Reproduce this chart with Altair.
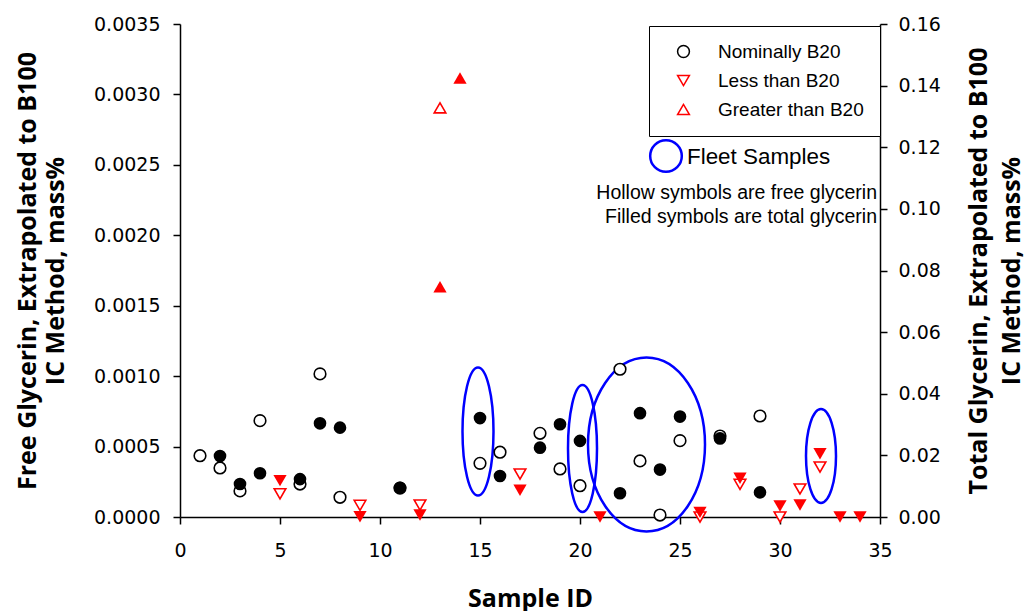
import altair as alt
import pandas as pd

# ---------------- data ----------------
# Nominally B20 (circles)
nom_free_x = [1, 2, 3, 4, 6, 7, 8, 11, 15, 16, 18, 19, 20, 22, 23, 24, 25, 27, 29]
nom_free = [0.000435, 0.000348, 0.000185, 0.000684, 0.000234, 0.001016, 0.000140,
            0.000205, 0.000381, 0.000460, 0.000594, 0.000341, 0.000222, 0.001049,
            0.000398, 0.000014, 0.000542, 0.000575, 0.000717]
nom_total_x = [2, 3, 4, 6, 7, 8, 11, 15, 16, 18, 19, 20, 22, 23, 24, 25, 27, 29]
nom_total = [0.0198, 0.0107, 0.0142, 0.0123, 0.0304, 0.0290, 0.0095, 0.0321, 0.0133,
             0.0225, 0.0301, 0.0247, 0.0077, 0.0337, 0.0154, 0.0326, 0.0255, 0.0080]

# Less than B20 (triangle down)
less_free_x = [5, 9, 12, 17, 26, 28, 30, 31, 32]
less_free = [0.000165, 0.000083, 0.000085, 0.000305, 0.0, 0.000232, 0.0, 0.000199, 0.000355]
less_total_x = [5, 9, 12, 17, 21, 26, 28, 30, 31, 32, 33, 34]
less_total = [0.0118, 0.0001, 0.00065, 0.0087, 0.0, 0.0015, 0.01256, 0.0036, 0.0039,
              0.02055, 0.0, 0.0]

# Greater than B20 (triangle up)
greater_free_x = [13]
greater_free = [0.002905]
greater_total_x = [13, 14]
greater_total = [0.0747, 0.1425]

# Fleet-sample ellipse centres (data units of x / left axis)
fleet_x = [14.9, 20.125, 23.325, 32.05]
fleet_y = [0.000607, 0.000486, 0.000515, 0.000433]

categories = ["Nominally B20", "Less than B20", "Greater than B20"]
left_ticks = [0, 0.0005, 0.0010, 0.0015, 0.0020, 0.0025, 0.0030, 0.0035]
right_ticks = [0, 0.02, 0.04, 0.06, 0.08, 0.10, 0.12, 0.14, 0.16]
x_ticks = [0, 5, 10, 15, 20, 25, 30, 35]

# ---------------- styling ----------------
W, H = 700, 493
BLUE = "#0000FF"
RED = "#FF0000"

free_df = pd.DataFrame({
    "x": nom_free_x + less_free_x + greater_free_x,
    "v": nom_free + less_free + greater_free,
    "Type": [categories[0]] * len(nom_free_x) + [categories[1]] * len(less_free_x)
            + [categories[2]] * len(greater_free_x),
})

x_enc = alt.X("x:Q", scale=alt.Scale(domain=[0, 35], nice=False),
              axis=alt.Axis(values=x_ticks, format="d", title="Sample ID",
                            labelPadding=17, labelFlush=False, titleX=W / 2, titleY=89,
                            titleAlign="center", titleBaseline="alphabetic"))

left_axis = alt.Axis(values=left_ticks, format=".4f", labelFlush=False,
                     title=["Free Glycerin, Extrapolated to B100", "IC Method, mass%"],
                     titleAngle=270, titleX=-145, titleY=H / 2, titleAlign="center",
                     titleBaseline="alphabetic", titleLineHeight=28, labelPadding=13)
right_axis = alt.Axis(values=right_ticks, format=".2f", orient="right", labelFlush=False,
                      title=["Total Glycerin, Extrapolated to B100", "IC Method, mass%"],
                      titleAngle=270, titleX=106, titleY=H / 2, titleAlign="center",
                      titleBaseline="alphabetic", titleLineHeight=33, labelPadding=11)
left_scale = alt.Scale(domain=[0, 0.0035], nice=False)
right_scale = alt.Scale(domain=[0, 0.16], nice=False)

# fleet ellipses as custom symbol paths (half-axes in px)
ell_axes = [(15.5, 64), (14.5, 63.5), (58.5, 87), (15, 47)]
ell_layers = []
for i, (rx, ry) in enumerate(ell_axes):
    s = max(rx, ry)
    a, b = rx / s, ry / s
    path = f"M {-a},0 A {a},{b} 0 1,0 {a},0 A {a},{b} 0 1,0 {-a},0 Z"
    d = pd.DataFrame({"x": [fleet_x[i]], "v": [fleet_y[i]]})
    ell_layers.append(
        alt.Chart(d).mark_point(shape=path, size=(2 * s) ** 2, filled=False,
                                stroke=BLUE, strokeWidth=2.5, opacity=1)
        .encode(x=x_enc, y=alt.Y("v:Q", scale=left_scale, axis=left_axis))
    )

hollow = alt.Chart(free_df).mark_point(filled=False, fill="white", strokeWidth=1.6,
                                       size=135, opacity=1).encode(
    x=x_enc,
    y=alt.Y("v:Q", scale=left_scale, axis=left_axis),
    color=alt.Color("Type:N", scale=alt.Scale(domain=categories, range=["black", RED, RED]),
                    legend=alt.Legend(orient="none", legendX=469, legendY=2, title=None,
                                      padding=16, strokeColor="black", fillColor="white",
                                      symbolOffset=9, labelOffset=25, rowPadding=9,
                                      labelFont="Liberation Sans", labelFontSize=19,
                                      labelColor="black", symbolSize=140,
                                      symbolStrokeWidth=1.5, cornerRadius=0)),
    shape=alt.Shape("Type:N", scale=alt.Scale(domain=categories,
                                              range=["circle", "triangle-down", "triangle-up"])),
)

left = alt.layer(*ell_layers, hollow)


def filled_layer(xs, vs, shape, color, size):
    d = pd.DataFrame({"x": xs, "v": vs})
    return alt.Chart(d).mark_point(filled=True, shape=shape, color=color, size=size,
                                   opacity=1).encode(
        x=x_enc, y=alt.Y("v:Q", scale=right_scale, axis=right_axis))


right = alt.layer(
    filled_layer(nom_total_x, nom_total, "circle", "black", 160),
    filled_layer(less_total_x, less_total, "triangle-down", RED, 175),
    filled_layer(greater_total_x, greater_total, "triangle-up", RED, 175),
)

# annotations
ann_df = pd.DataFrame({"t": ["Fleet Samples"]})
fleet_circle = alt.Chart(ann_df).mark_point(shape="circle", size=1000, filled=False,
                                            stroke=BLUE, strokeWidth=2.5, opacity=1).encode(
    x=alt.value(486), y=alt.value(132))
fleet_text = alt.Chart(ann_df).mark_text(align="left", baseline="alphabetic",
                                         font="Liberation Sans", fontSize=22.4,
                                         color="black").encode(
    x=alt.value(507), y=alt.value(140), text="t:N")
notes_df = pd.DataFrame({"t": ["Hollow symbols are free glycerin\nFilled symbols are total glycerin"]})
notes = alt.Chart(notes_df).mark_text(align="right", baseline="alphabetic", lineBreak="\n",
                                      lineHeight=23.5, font="Liberation Sans", fontSize=19.5,
                                      color="black").encode(
    x=alt.value(697), y=alt.value(175), text="t:N")

annotations = alt.layer(fleet_circle, fleet_text, notes)

chart = alt.layer(left, right, annotations).resolve_scale(y="independent").properties(
    width=W, height=H,
    autosize=alt.AutoSizeParams(type="none"),
    padding={"left": 180, "top": 24, "right": 144, "bottom": 94},
).configure_view(stroke=None).configure_axis(
    grid=False, domainColor="black", domainWidth=1.5, tickColor="black", tickWidth=1.5,
    tickSize=7, labelFont="DejaVu Sans", labelFontSize=19, labelColor="black",
    titleFont="Open Sans", titleFontWeight="bold", titleFontSize=25, titleColor="black",
).configure_point(strokeCap="butt")

chart.save("out.html", embed_options={"renderer": "svg", "actions": False})
